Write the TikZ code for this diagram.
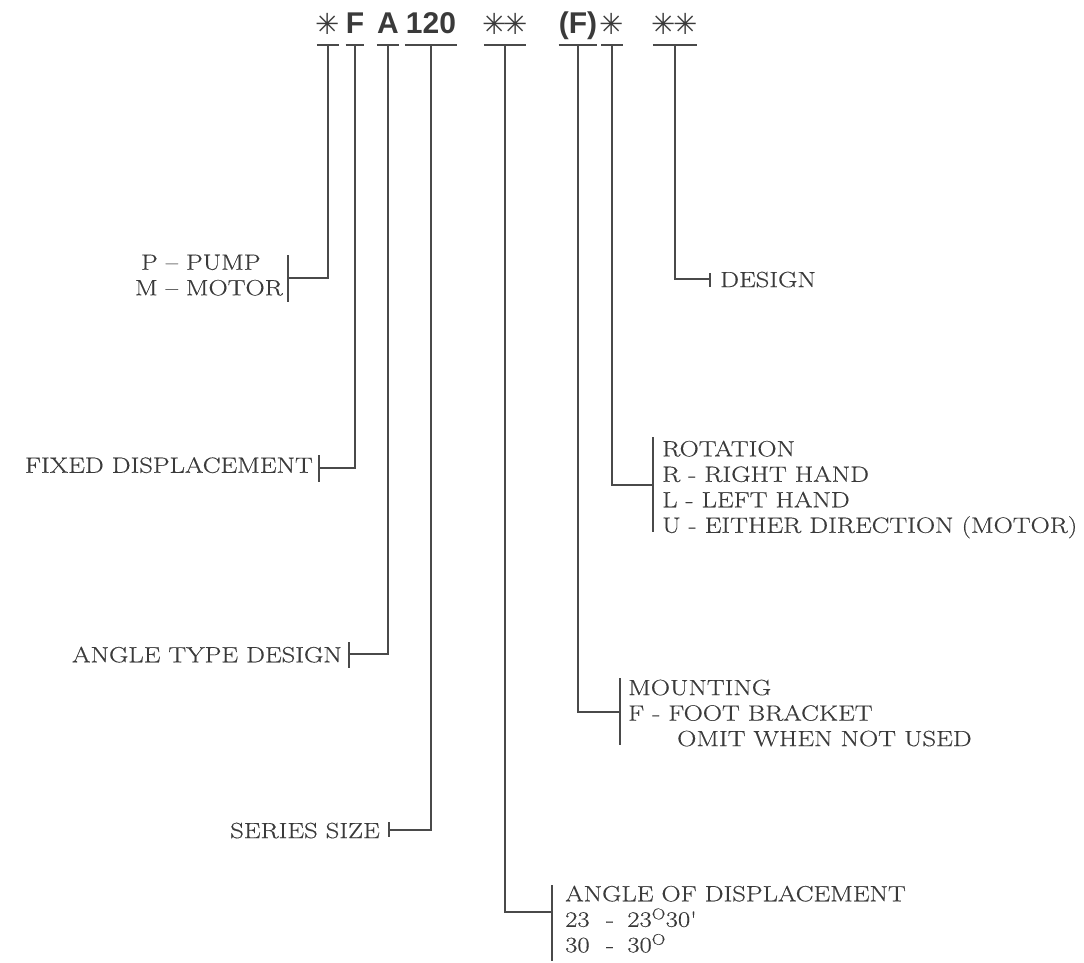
\documentclass[tikz,border=0pt]{standalone}
\usepackage{fontspec}
\newfontfamily\codefont{Liberation Sans}
\newfontfamily\astfont{DejaVu Sans}
\newfontfamily\labfont{Latin Modern Roman}[FakeStretch=1.21,FakeBold=0.4,Ligatures=TeX]
\definecolor{ink}{HTML}{3A3A3A}
\definecolor{lineink}{HTML}{4A4A4A}
\newcommand{\astk}[1]{\makebox[#1][c]{✳}}
\begin{document}
\begin{tikzpicture}[x=1pt,y=-1pt,
  lab/.style={font=\labfont\fontsize{22}{25.5}\selectfont, text=ink, inner sep=0pt, align=left},
  code/.style={font=\codefont\bfseries\fontsize{30}{30}\selectfont, text=ink, inner ysep=0pt, inner xsep=0pt, text depth=11pt, anchor=south},
  ast/.style={code, font=\astfont\fontsize{29}{29}\selectfont, text depth=10pt},
  conn/.style={draw=lineink, line width=1.6pt},
  bar/.style={draw=lineink, line width=1.4pt}
]
\useasboundingbox (0,0) rectangle (1084,962);

% code letters
\node[ast,  minimum width=22pt] (c1) at (328,45) {\astk{18pt}};
\node[code, minimum width=18pt] (c2) at (355,45) {F};
\node[code, minimum width=19pt] (c3) at (388,45) {A};
\node[code, minimum width=52pt] (c4) at (431,45) {120};
\node[ast,  minimum width=38pt] (c5) at (505,45) {\astk{21pt}\astk{21pt}};
\node[code, minimum width=37pt] (c6) at (578,45) {(F)};
\node[ast,  minimum width=21pt] (c7) at (612,45) {\astk{18pt}};
\node[ast,  minimum width=42pt] (c8) at (675,45) {\astk{22pt}\astk{22pt}};
\foreach \c in {c1,c2,c3,c4,c5,c6,c7,c8}
  \draw[conn] (\c.south west) -- (\c.south east);

% labels
\node[lab, anchor=north east] (pump) at (283,254.5) {\hspace*{6pt}P \textendash{} PUMP\\M \textendash{} MOTOR};
\node[lab, anchor=north east] (fixed) at (313,457) {FIXED DISPLACEMENT};
\node[lab, anchor=north east] (atype) at (342,646.5) {ANGLE TYPE DESIGN};
\node[lab, anchor=north east] (series) at (380,822.5) {SERIES SIZE};
\node[lab, anchor=north west] (design) at (720,271.5) {DESIGN};
\node[lab, anchor=north west] (rot) at (662,440.5) {ROTATION\\R - RIGHT HAND\\L - LEFT HAND\\U - EITHER DIRECTION (MOTOR)};
\node[lab, anchor=north west] (mount) at (628,679.5) {MOUNTING\\F - FOOT BRACKET\\\hspace*{49pt}OMIT WHEN NOT USED};
\node[lab, anchor=north west] (disp) at (565,885.5) {ANGLE OF DISPLACEMENT\\23\hspace{0.75em}-\hspace{0.6em}23\textsuperscript{O}30\textquotesingle\\30\hspace{0.75em}-\hspace{0.6em}30\textsuperscript{O}};

% junctions
\coordinate (jp) at (288,278);
\coordinate (jf) at (319,468);
\coordinate (ja) at (349,654);
\coordinate (js) at (389,830);
\coordinate (jd) at (710,279);
\coordinate (jr) at (653,485);
\coordinate (jm) at (620,712);
\coordinate (jx) at (552,912);

% bars
\draw[bar] (jp) ++(0,-23) -- ++(0,47);
\draw[bar] (jf) ++(0,-13) -- ++(0,27);
\draw[bar] (ja) ++(0,-12) -- ++(0,26);
\draw[bar] (js) ++(0,-8) -- ++(0,15);
\draw[bar] (jd) ++(0,-6) -- ++(0,14);
\draw[bar] (jr) ++(0,-48) -- ++(0,95);
\draw[bar] (jm) ++(0,-34) -- ++(0,67);
\draw[bar] (jx) ++(0,-27) -- ++(0,76);

% connectors
\draw[conn] (c1.south) |- (jp);
\draw[conn] (c2.south) |- (jf);
\draw[conn] (c3.south) |- (ja);
\draw[conn] (c4.south) |- (js);
\draw[conn] (c5.south) |- (jx);
\draw[conn] (c6.south) |- (jm);
\draw[conn] (c7.south) |- (jr);
\draw[conn] (c8.south) |- (jd);
\end{tikzpicture}
\end{document}
